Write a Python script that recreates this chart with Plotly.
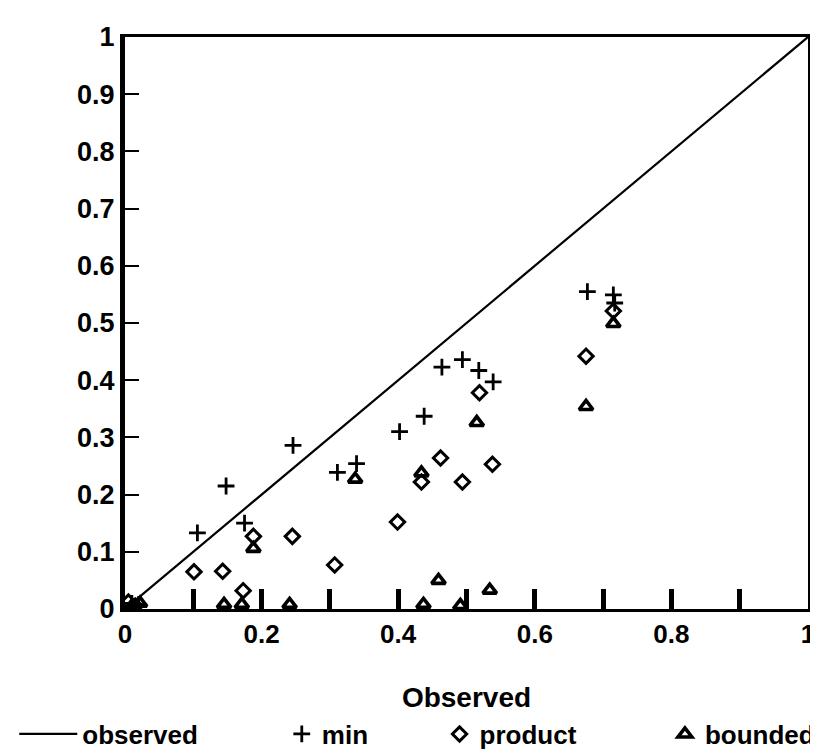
import plotly.graph_objects as go

# ---- data ----
line_x = [0, 1]
line_y = [0, 1]

min_x = [0.010, 0.020, 0.106, 0.148, 0.175, 0.246, 0.311, 0.339, 0.402, 0.438,
         0.464, 0.494, 0.518, 0.539, 0.677, 0.715, 0.717]
min_y = [0.010, 0.008, 0.133, 0.215, 0.150, 0.286, 0.239, 0.254, 0.310, 0.337,
         0.423, 0.436, 0.417, 0.397, 0.555, 0.549, 0.535]

product_x = [0.005, 0.015, 0.101, 0.143, 0.173, 0.188, 0.245, 0.307, 0.399, 0.434,
             0.462, 0.494, 0.519, 0.538, 0.675, 0.715]
product_y = [0.012, 0.005, 0.065, 0.066, 0.032, 0.127, 0.127, 0.077, 0.152, 0.222,
             0.264, 0.222, 0.378, 0.253, 0.442, 0.521]

bounded_x = [0.010, 0.022, 0.145, 0.171, 0.188, 0.241, 0.337, 0.434, 0.437, 0.459,
             0.491, 0.515, 0.534, 0.675, 0.715]
bounded_y = [0.005, 0.010, 0.008, 0.008, 0.106, 0.008, 0.227, 0.238, 0.008, 0.050,
             0.006, 0.326, 0.033, 0.354, 0.499]

x_ticks = [0, 0.1, 0.2, 0.3, 0.4, 0.5, 0.6, 0.7, 0.8, 0.9, 1]
x_tick_labels = ["0", "", "0.2", "", "0.4", "", "0.6", "", "0.8", "", "1"]
y_ticks = [0, 0.1, 0.2, 0.3, 0.4, 0.5, 0.6, 0.7, 0.8, 0.9, 1]
y_tick_labels = ["0", "0.1", "0.2", "0.3", "0.4", "0.5", "0.6", "0.7", "0.8", "0.9", "1"]

FONT = "Liberation Sans, DejaVu Sans, sans-serif"

fig = go.Figure()
fig.add_trace(go.Scatter(x=line_x, y=line_y, mode="lines", name="observed",
                         line=dict(color="black", width=2.2), legend="legend"))
fig.add_trace(go.Scatter(x=min_x, y=min_y, mode="markers", name="min",
                         marker=dict(symbol="cross-thin", size=12, color="black",
                                     line=dict(color="black", width=2.8)),
                         legend="legend2"))
fig.add_trace(go.Scatter(x=product_x, y=product_y, mode="markers", name="product",
                         marker=dict(symbol="diamond-open", size=11, color="black",
                                     line=dict(color="black", width=3)),
                         legend="legend3"))
fig.add_trace(go.Scatter(x=bounded_x, y=bounded_y, mode="markers", name="bounded",
                         marker=dict(symbol="triangle-up-open", size=12, color="black",
                                     line=dict(color="black", width=3.6)),
                         legend="legend4"))

PL, PR, PT, PB = 115, 6, 29, 137
pw = 818 - PL - PR
ph = 756 - PT - PB


def px_to_paper_x(px):
    return (px - PL) / pw


def py_to_paper_y(py):
    return (756 - PB - py) / ph


def leg(px, itemwidth=30):
    return dict(x=px_to_paper_x(px), y=py_to_paper_y(748),
                orientation="h", yanchor="middle", xanchor="left",
                bgcolor="rgba(0,0,0,0)", borderwidth=0,
                font=dict(family=FONT, size=26, color="black", weight="bold"),
                itemwidth=itemwidth)


fig.update_layout(
    width=818, height=756,
    margin=dict(l=PL, r=PR, t=PT, b=PB, pad=0),
    paper_bgcolor="white", plot_bgcolor="white",
    showlegend=True,
    legend=leg(2, itemwidth=58),
    legend2=leg(275),
    legend3=leg(436),
    legend4=leg(666),
    xaxis=dict(range=[0, 1], tickvals=x_ticks, ticktext=x_tick_labels,
               ticks="inside", ticklen=20, tickwidth=5, tickcolor="black",
               showline=True, linewidth=3, linecolor="black", mirror=True,
               showgrid=False, zeroline=False,
               tickfont=dict(family=FONT, size=26, color="black", weight="bold"),
               title=dict(text="Observed", standoff=40,
                          font=dict(family=FONT, size=28, color="black", weight="bold"))),
    yaxis=dict(range=[0, 1], tickvals=y_ticks, ticktext=y_tick_labels,
               ticks="inside", ticklen=14, tickwidth=2, tickcolor="black",
               showline=True, linewidth=5, linecolor="black", mirror=True,
               showgrid=False, zeroline=False,
               tickfont=dict(family=FONT, size=27, color="black", weight="bold")),
)

fig.write_html("out.html")
